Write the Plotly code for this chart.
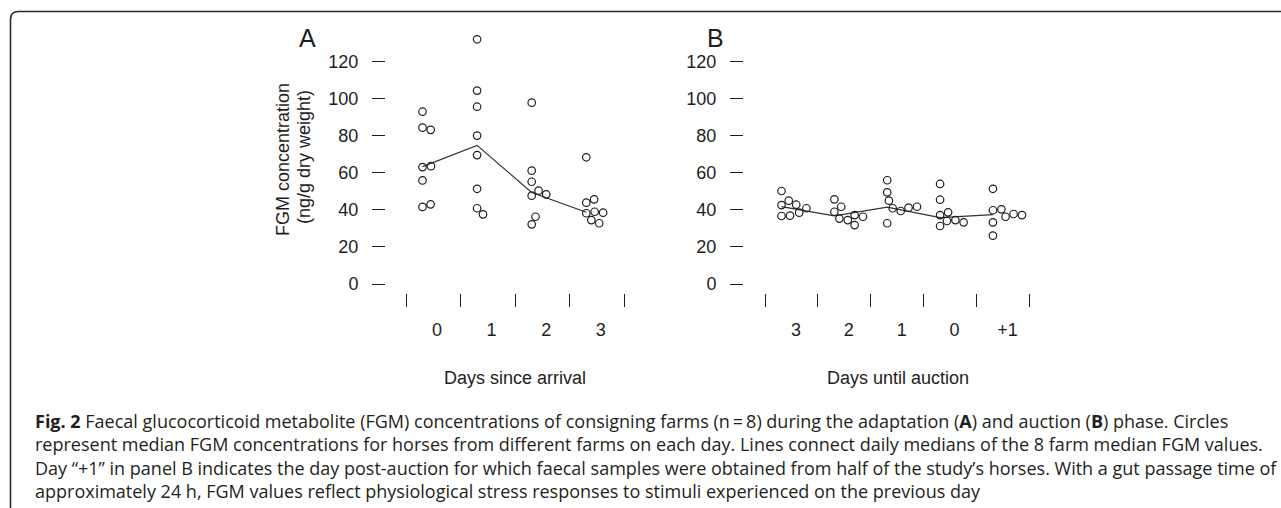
import math
import numpy as np
import plotly.graph_objects as go

# ---------------- data ----------------
# Panel A: days since arrival
days_A = ["0", "1", "2", "3"]
a_day0 = [93.0, 84.4, 63.1, 55.9, 41.6, 83.2, 63.6, 43.0]
a_day1 = [132.1, 104.4, 95.7, 80.1, 69.6, 51.4, 40.9, 37.6]
a_day2 = [97.9, 61.2, 55.2, 47.7, 32.2, 50.4, 36.3, 48.4]
a_day3 = [68.4, 43.9, 38.2, 34.5, 45.7, 39.0, 32.8, 38.5]

# Panel B: days until auction
days_B = ["3", "2", "1", "0", "+1"]
b_day3 = [50.2, 42.6, 36.7, 45.0, 36.9, 42.8, 38.5, 40.9]
b_day2 = [45.7, 39.0, 35.3, 34.5, 37.2, 41.7, 31.8, 36.3]
b_day1 = [56.0, 49.5, 45.0, 40.9, 32.8, 39.4, 41.2, 41.7]
b_day0 = [54.0, 45.5, 37.2, 31.3, 38.7, 34.0, 34.5, 33.3]
b_dayp1 = [51.4, 39.8, 33.3, 26.1, 40.3, 36.3, 37.8, 37.2]

groups_A = [a_day0, a_day1, a_day2, a_day3]
groups_B = [b_day3, b_day2, b_day1, b_day0, b_dayp1]

y_ticks = [0, 20, 40, 60, 80, 100, 120]

caption_lines = [
    "<b>Fig. 2</b> Faecal glucocorticoid metabolite (FGM) concentrations of consigning farms (n\u2009=\u20098) during the adaptation (<b>A</b>) and auction (<b>B</b>) phase. Circles",
    "represent median FGM concentrations for horses from different farms on each day. Lines connect daily medians of the 8 farm median FGM values.",
    "Day \u201c+1\u201d in panel B indicates the day post-auction for which faecal samples were obtained from half of the study\u2019s horses. With a gut passage time of",
    "approximately 24 h, FGM values reflect physiological stress responses to stimuli experienced on the previous day",
]

# ---------------- layout geometry (pixels) ----------------
W, H = 1281, 508
Y_ZERO_PX = 284.0
Y_PX_PER_UNIT = 1.8525
PLOT_TOP_PX, PLOT_BOT_PX = 25.0, 293.0

PANELS = {
    "A": dict(first_tick=406.0, ppu=54.6, left=386.0, right=640.0),
    "B": dict(first_tick=765.0, ppu=52.86, left=744.0, right=1050.0),
}
BASE_PX = 16.5      # first column of circles, right of the slot boundary
LABEL_PX = 31.0     # day label, right of the slot boundary
SWARM_D = 8.5       # circle spacing in px

INK = "#1e1e1e"
FONT = "Liberation Sans, Arial, sans-serif"


def px2x(px):
    return px / W


def py2y(py):
    return 1 - py / H


def swarm(vals, d=SWARM_D, ys=Y_PX_PER_UNIT):
    """One-sided beeswarm: horizontal offset (px) for each value."""
    placed, out = [], []
    for v in vals:
        y = v * ys
        cands = [0.0]
        for (qx, qy) in placed:
            dy = abs(y - qy)
            if dy < d:
                cands.append(qx + math.sqrt(d * d - dy * dy))
        cands.sort()
        pos = cands[-1]
        for c in cands:
            if all((c - qx) ** 2 + (y - qy) ** 2 >= d * d - 1e-6 for qx, qy in placed):
                pos = c
                break
        placed.append((pos, y))
        out.append(pos)
    return out


y_lo = -(PLOT_BOT_PX - Y_ZERO_PX) / Y_PX_PER_UNIT
y_hi = (Y_ZERO_PX - PLOT_TOP_PX) / Y_PX_PER_UNIT
y_domain = [py2y(PLOT_BOT_PX), py2y(PLOT_TOP_PX)]

fig = go.Figure()


def add_panel(key, groups, labels, xname, yname):
    p = PANELS[key]
    ppu = p["ppu"]
    xs, ys = [], []
    for s, g in enumerate(groups):
        offs = swarm(g)
        xs += [s + (BASE_PX + o) / ppu for o in offs]
        ys += list(g)
    med_x = [s + BASE_PX / ppu for s in range(len(groups))]
    med_y = [float(np.median(g)) for g in groups]
    fig.add_trace(go.Scatter(x=med_x, y=med_y, mode="lines", xaxis=xname, yaxis=yname,
                             line=dict(color="#333333", width=1.2), hoverinfo="skip",
                             showlegend=False))
    fig.add_trace(go.Scatter(x=xs, y=ys, mode="markers", xaxis=xname, yaxis=yname,
                             marker=dict(symbol="circle-open", size=7.5, color=INK,
                                         line=dict(width=1.2, color=INK)),
                             showlegend=False))
    n = len(groups)
    xr = [(p["left"] - p["first_tick"]) / ppu, (p["right"] - p["first_tick"]) / ppu]
    axx = dict(
        domain=[px2x(p["left"]), px2x(p["right"])], range=xr, anchor=yname,
        tickmode="array", tickvals=[s + LABEL_PX / ppu for s in range(n)], ticktext=labels,
        ticks="", showline=False, showgrid=False, zeroline=False,
        tickfont=dict(family=FONT, size=18, color=INK), ticklabelstandoff=24,
        minor=dict(tickmode="array", tickvals=list(range(n + 1)), ticks="outside",
                   ticklen=13, tickwidth=1.3, tickcolor=INK, showgrid=False),
        fixedrange=True,
    )
    axy = dict(
        domain=y_domain, range=[y_lo, y_hi], anchor=xname,
        tickmode="array", tickvals=y_ticks, ticks="outside", ticklen=13, tickwidth=1.4,
        tickcolor=INK, showline=False, showgrid=False, zeroline=False,
        tickfont=dict(family=FONT, size=18, color=INK), ticklabelstandoff=10,
        fixedrange=True,
    )
    return axx, axy


xa, ya = add_panel("A", groups_A, days_A, "x", "y")
xb, yb = add_panel("B", groups_B, days_B, "x2", "y2")

annotations = [
    dict(text="A", x=px2x(307), y=py2y(38), xref="paper", yref="paper", showarrow=False,
         font=dict(family=FONT, size=25, color=INK), xanchor="center", yanchor="middle"),
    dict(text="B", x=px2x(716), y=py2y(38), xref="paper", yref="paper", showarrow=False,
         font=dict(family=FONT, size=25, color=INK), xanchor="center", yanchor="middle"),
    dict(text="FGM concentration", x=px2x(283), y=py2y(160), xref="paper", yref="paper",
         showarrow=False, textangle=-90, font=dict(family=FONT, size=18, color=INK),
         xanchor="center", yanchor="middle"),
    dict(text="(ng/g dry weight)", x=px2x(304), y=py2y(157), xref="paper", yref="paper",
         showarrow=False, textangle=-90, font=dict(family=FONT, size=18, color=INK),
         xanchor="center", yanchor="middle"),
    dict(text="Days since arrival", x=px2x(515), y=py2y(378), xref="paper", yref="paper",
         showarrow=False, font=dict(family=FONT, size=18, color=INK),
         xanchor="center", yanchor="middle"),
    dict(text="Days until auction", x=px2x(898), y=py2y(378), xref="paper", yref="paper",
         showarrow=False, font=dict(family=FONT, size=18, color=INK),
         xanchor="center", yanchor="middle"),
    dict(text="<br>".join(caption_lines), x=px2x(33), y=py2y(456), xref="paper",
         yref="paper", showarrow=False, xanchor="left", yanchor="middle", align="left",
         font=dict(family="Open Sans", size=18, color="#231f20")),
]

# rounded frame (clipped at right and bottom)
L, T, R = 10.5, 11.5, 8.0
frame = (f"M {px2x(L)} {py2y(H + 20)} L {px2x(L)} {py2y(T + R)} "
         f"Q {px2x(L)} {py2y(T)} {px2x(L + R)} {py2y(T)} L {px2x(W + 20)} {py2y(T)}")

fig.update_layout(
    width=W, height=H, margin=dict(l=0, r=0, t=0, b=0),
    paper_bgcolor="white", plot_bgcolor="rgba(0,0,0,0)",
    xaxis=xa, yaxis=ya, xaxis2=xb, yaxis2=yb,
    annotations=annotations,
    shapes=[dict(type="path", path=frame, xref="paper", yref="paper",
                 line=dict(color="#2b2b2b", width=1.6))],
    showlegend=False,
)

fig.write_html("out.html", config={"displayModeBar": False},
               post_script="document.body.style.margin='0px';")
